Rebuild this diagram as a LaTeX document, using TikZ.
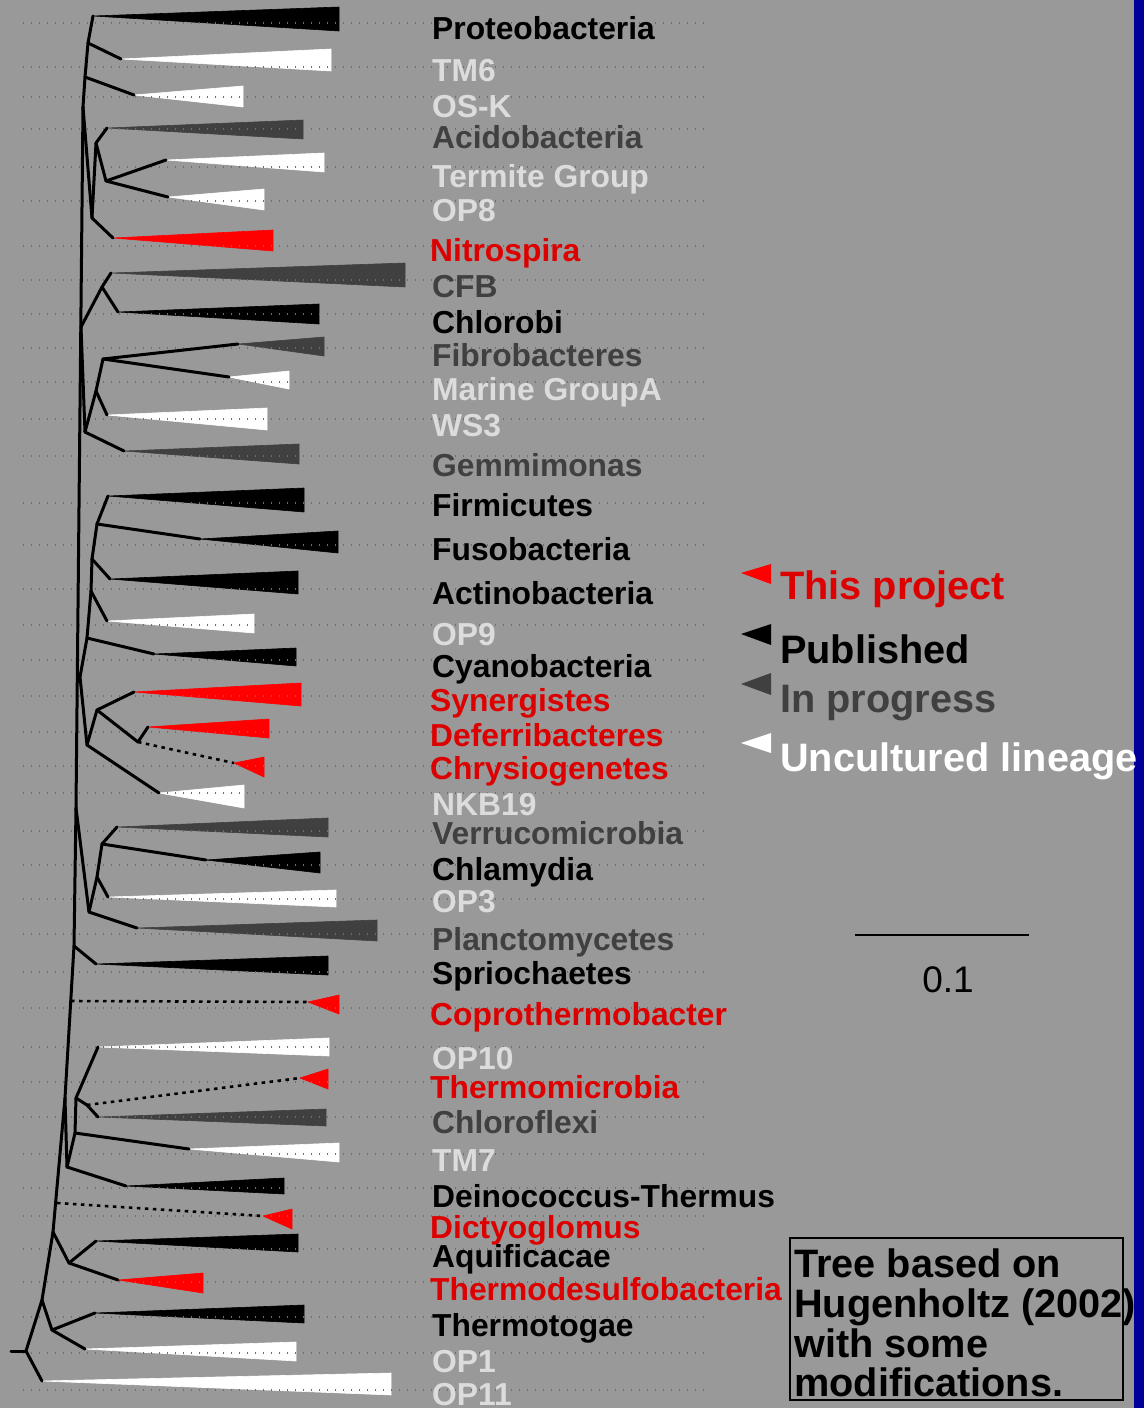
\documentclass[tikz,border=0pt]{standalone}
\usepackage{fontspec}
\setmainfont{Liberation Sans}
\definecolor{bg}{HTML}{999999}
\definecolor{dk}{HTML}{404040}
\definecolor{lt}{HTML}{DCDCDC}
\definecolor{rd}{HTML}{FF0000}
\definecolor{rdt}{HTML}{DD0000}
\definecolor{bluebar}{HTML}{000099}
\definecolor{guide}{HTML}{6E6E6E}
\newcommand\clade[5]{\fill[#5, draw=#5, line width=0.6pt, line join=round] (#1) -- (#2,#3) -- (#2,#4) -- cycle;}
\begin{document}
\begin{tikzpicture}[x=1pt,y=-1pt,
  br/.style={line width=3pt, line cap=round, line join=round},
  dbr/.style={line width=2.6pt, dash pattern=on 3.5pt off 4.5pt},
  lab/.style={anchor=base west, inner sep=0pt, font=\fontsize{31.8}{36}\selectfont\bfseries},
  guideline/.style={guide, line width=1.3pt, dash pattern=on 1.3pt off 6.7pt},
  leg/.style={anchor=base west, inner sep=0pt, font=\fontsize{39.7}{44}\selectfont\bfseries},
]
\useasboundingbox (0,0) rectangle (1144,1408);
\fill[bg] (0,0) rectangle (1144,1408);
\fill[bluebar] (1134,0) rectangle (1144,1408);

% tips
\coordinate (t1) at (93,16);
\coordinate (t2) at (121,59);
\coordinate (t3) at (134,95);
\coordinate (t4) at (107,128);
\coordinate (t5) at (166,160);
\coordinate (t6) at (168,197);
\coordinate (t7) at (113,238);
\coordinate (t8) at (111,273);
\coordinate (t9) at (118,312);
\coordinate (t10) at (238,344);
\coordinate (t11) at (229,377);
\coordinate (t12) at (107,415);
\coordinate (t13) at (124,451);
\coordinate (t14) at (108,496);
\coordinate (t15) at (200,539);
\coordinate (t16) at (110,579);
\coordinate (t17) at (107,621);
\coordinate (t18) at (154,654);
\coordinate (t19) at (134,692);
\coordinate (t20) at (148,727);
\coordinate (t21) at (234,763);
\coordinate (t22) at (159,793);
\coordinate (t23) at (117,827);
\coordinate (t24) at (206,860);
\coordinate (t25) at (108,897);
\coordinate (t26) at (137,928);
\coordinate (t27) at (96,964);
\coordinate (t28) at (308,1002);
\coordinate (t29) at (98,1047);
\coordinate (t30) at (300,1078);
\coordinate (t31) at (98,1117);
\coordinate (t32) at (189,1149);
\coordinate (t33) at (126,1186);
\coordinate (t34) at (263,1216);
\coordinate (t35) at (96,1241);
\coordinate (t36) at (118,1280);
\coordinate (t37) at (95,1313);
\coordinate (t38) at (85,1349);
\coordinate (t39) at (42,1381);

% internal nodes
\coordinate (nA) at (88,43);
\coordinate (nB) at (85,77);
\coordinate (nC) at (83,107);
\coordinate (nD) at (92,218);
\coordinate (nE) at (96,143);
\coordinate (nF) at (106,181);
\coordinate (nH) at (102,287);
\coordinate (nG) at (81,327);
\coordinate (nK) at (85,432);
\coordinate (nJ) at (96,391);
\coordinate (nI) at (103,359);
\coordinate (nL) at (97,524);
\coordinate (nM) at (92,559);
\coordinate (nN) at (91,591);
\coordinate (nO) at (87,638);
\coordinate (nP) at (80,677);
\coordinate (nQ) at (87,745);
\coordinate (nR) at (97,710);
\coordinate (nS) at (138,742);
\coordinate (nBB) at (76,808);
\coordinate (nT) at (89,912);
\coordinate (nV) at (97,877);
\coordinate (nW) at (102,844);
\coordinate (nU) at (74,946);
\coordinate (nX) at (71,1001);
\coordinate (nY) at (65,1098);
\coordinate (nZ) at (67,1167);
\coordinate (nAA) at (75,1133);
\coordinate (nAB) at (76,1098);
\coordinate (nAC) at (87,1105);
\coordinate (nDi) at (57,1203);
\coordinate (nW2) at (53,1232);
\coordinate (nAD) at (69,1263);
\coordinate (nAE) at (42,1300);
\coordinate (nAF) at (52,1330);
\coordinate (root) at (26,1351);
\coordinate (stub) at (11,1351);

% clades
\clade{t1}{339}{7}{31}{black}
\clade{t2}{331}{49}{71}{white}
\clade{t3}{243}{86}{107}{white}
\clade{t4}{303}{120}{139}{dk}
\clade{t5}{324}{153}{172}{white}
\clade{t6}{264}{189}{210}{white}
\clade{t7}{273}{230}{251}{rd}
\clade{t8}{405}{263}{287}{dk}
\clade{t9}{319}{304}{324}{black}
\clade{t10}{324}{337}{356}{dk}
\clade{t11}{289}{371}{389}{white}
\clade{t12}{267}{408}{430}{white}
\clade{t13}{299}{444}{464}{dk}
\clade{t14}{304}{488}{512}{black}
\clade{t15}{338}{531}{553}{black}
\clade{t16}{298}{571}{594}{black}
\clade{t17}{254}{614}{633}{white}
\clade{t18}{296}{648}{666}{black}
\clade{t19}{301}{683}{706}{rd}
\clade{t20}{269}{719}{738}{rd}
\clade{t21}{264}{757}{777}{rd}
\clade{t22}{244}{785}{808}{white}
\clade{t23}{328}{818}{837}{dk}
\clade{t24}{320}{852}{873}{black}
\clade{t25}{336}{890}{907}{white}
\clade{t26}{377}{920}{941}{dk}
\clade{t27}{328}{956}{975}{black}
\clade{t28}{339}{995}{1014}{rd}
\clade{t29}{329}{1038}{1056}{white}
\clade{t30}{328}{1069}{1089}{rd}
\clade{t31}{326}{1109}{1126}{dk}
\clade{t32}{339}{1143}{1162}{white}
\clade{t33}{284}{1178}{1194}{black}
\clade{t34}{292}{1209}{1229}{rd}
\clade{t35}{298}{1234}{1252}{black}
\clade{t36}{203}{1273}{1293}{rd}
\clade{t37}{304}{1305}{1323}{black}
\clade{t38}{296}{1342}{1361}{white}
\clade{t39}{391}{1373}{1395}{white}

% guide lines
\foreach \gy in {23,67,97,129,167,201,246,280,314,348,382,419,456,503,545,589,625,660,696,732,766,793,831,865,899,934,972,1008,1047,1082,1117,1154,1188,1216,1249,1282,1317,1353,1390}
  \draw[guideline] (23,\gy) -- (705,\gy);

% branches
\draw[br] (nA) -- (t1);
\draw[br] (nA) -- (t2);
\draw[br] (nB) -- (nA);
\draw[br] (nB) -- (t3);
\draw[br] (nC) -- (nB);
\draw[br] (nC) -- (nD);
\draw[br] (nD) -- (t7);
\draw[br] (nD) -- (nE);
\draw[br] (nE) -- (t4);
\draw[br] (nE) -- (nF);
\draw[br] (nF) -- (t5);
\draw[br] (nF) -- (t6);
\draw[br] (nC) -- (nBB);
\draw[br] (nG) -- (nH);
\draw[br] (nH) -- (t8);
\draw[br] (nH) -- (t9);
\draw[br] (nG) -- (nK);
\draw[br] (nK) -- (nJ);
\draw[br] (nK) -- (t13);
\draw[br] (nJ) -- (nI);
\draw[br] (nJ) -- (t12);
\draw[br] (nI) -- (t10);
\draw[br] (nI) -- (t11);
\draw[br] (nP) -- (nO);
\draw[br] (nO) -- (nN);
\draw[br] (nO) -- (t18);
\draw[br] (nN) -- (nM);
\draw[br] (nN) -- (t17);
\draw[br] (nM) -- (nL);
\draw[br] (nM) -- (t16);
\draw[br] (nL) -- (t14);
\draw[br] (nL) -- (t15);
\draw[br] (nP) -- (nQ);
\draw[br] (nQ) -- (nR);
\draw[br] (nQ) -- (t22);
\draw[br] (nR) -- (t19);
\draw[br] (nR) -- (nS);
\draw[br] (nS) -- (t20);
\draw[dbr] (nS) -- (t21);
\draw[br] (nBB) -- (nT);
\draw[br] (nT) -- (nV);
\draw[br] (nT) -- (t26);
\draw[br] (nV) -- (nW);
\draw[br] (nV) -- (t25);
\draw[br] (nW) -- (t23);
\draw[br] (nW) -- (t24);
\draw[br] (nBB) -- (nU);
\draw[br] (nU) -- (t27);
\draw[br] (nU) -- (nY);
\draw[dbr] (nX) -- (t28);
\draw[br] (nY) -- (nZ);
\draw[br] (nZ) -- (nAA);
\draw[br] (nZ) -- (t33);
\draw[br] (nAA) -- (nAB);
\draw[br] (nAA) -- (t32);
\draw[br] (nAB) -- (t29);
\draw[br] (nAB) -- (nAC);
\draw[br] (nAC) -- (t31);
\draw[dbr] (nAC) -- (t30);
\draw[br] (nY) -- (nW2);
\draw[dbr] (nDi) -- (t34);
\draw[br] (nW2) -- (nAD);
\draw[br] (nAD) -- (t35);
\draw[br] (nAD) -- (t36);
\draw[br] (nW2) -- (nAE);
\draw[br] (nAE) -- (nAF);
\draw[br] (nAF) -- (t37);
\draw[br] (nAF) -- (t38);
\draw[br] (nAE) -- (root);
\draw[br] (root) -- (t39);
\draw[br] (root) -- (stub);

% labels
\node[lab, text=black] (l1) at (432,39) {Proteobacteria};
\node[lab, text=lt] (l2) at (432,81) {TM6};
\node[lab, text=lt] (l3) at (432,117) {OS-K};
\node[lab, text=dk] (l4) at (432,148) {Acidobacteria};
\node[lab, text=lt] (l5) at (432,187) {Termite Group};
\node[lab, text=lt] (l6) at (432,221) {OP8};
\node[lab, text=rdt] (l7) at (430,261) {Nitrospira};
\node[lab, text=dk] (l8) at (432,297) {CFB};
\node[lab, text=black] (l9) at (432,333) {Chlorobi};
\node[lab, text=dk] (l10) at (432,366) {Fibrobacteres};
\node[lab, text=lt] (l11) at (432,400) {Marine GroupA};
\node[lab, text=lt] (l12) at (432,436) {WS3};
\node[lab, text=dk] (l13) at (432,476) {Gemmimonas};
\node[lab, text=black] (l14) at (432,516) {Firmicutes};
\node[lab, text=black] (l15) at (432,560) {Fusobacteria};
\node[lab, text=black] (l16) at (432,604) {Actinobacteria};
\node[lab, text=lt] (l17) at (432,645) {OP9};
\node[lab, text=black] (l18) at (432,677) {Cyanobacteria};
\node[lab, text=rdt] (l19) at (430,711) {Synergistes};
\node[lab, text=rdt] (l20) at (430,746) {Deferribacteres};
\node[lab, text=rdt] (l21) at (430,779) {Chrysiogenetes};
\node[lab, text=lt] (l22) at (432,815) {NKB19};
\node[lab, text=dk] (l23) at (432,844) {Verrucomicrobia};
\node[lab, text=black] (l24) at (432,880) {Chlamydia};
\node[lab, text=lt] (l25) at (432,912) {OP3};
\node[lab, text=dk] (l26) at (432,950) {Planctomycetes};
\node[lab, text=black] (l27) at (432,984) {Spriochaetes};
\node[lab, text=rdt] (l28) at (430,1025) {Coprothermobacter};
\node[lab, text=lt] (l29) at (432,1069) {OP10};
\node[lab, text=rdt] (l30) at (430,1098) {Thermomicrobia};
\node[lab, text=dk] (l31) at (432,1133) {Chloroflexi};
\node[lab, text=lt] (l32) at (432,1171) {TM7};
\node[lab, text=black] (l33) at (432,1207) {Deinococcus-Thermus};
\node[lab, text=rdt] (l34) at (430,1238) {Dictyoglomus};
\node[lab, text=black] (l35) at (432,1267) {Aquificacae};
\node[lab, text=rdt] (l36) at (430,1300) {Thermodesulfobacteria};
\node[lab, text=black] (l37) at (432,1336) {Thermotogae};
\node[lab, text=lt] (l38) at (432,1372) {OP1};
\node[lab, text=lt] (l39) at (432,1405) {OP11};

% legend
\fill[rd] (741,573) -- (771,564) -- (771,584) -- cycle;
\fill[black] (741,634) -- (771,624) -- (771,645) -- cycle;
\fill[dk] (741,684) -- (771,673) -- (771,695) -- cycle;
\fill[white] (741,743) -- (771,733) -- (771,753) -- cycle;
\node[leg, text=rdt] (g1) at (780,599) {This project};
\node[leg, text=black] (g2) at (780,663) {Published};
\node[leg, text=dk] (g3) at (780,712) {In progress};
\node[leg, text=white] (g4) at (780,771) {Uncultured lineage};

% scale bar
\coordinate (sb1) at (855,935);
\coordinate (sb2) at (1029,935);
\draw[line width=1.6pt] (sb1) -- (sb2);
\node[anchor=base, inner sep=0pt, font=\fontsize{37}{40}\selectfont] (sbl) at (948,992) {0.1};

% note box
\draw[line width=1.5pt] (790,1238) rectangle (1123,1400);
\node[leg, text=black] (b1) at (794,1277) {Tree based on};
\node[leg, text=black] (b2) at (794,1317) {Hugenholtz (2002)};
\node[leg, text=black] (b3) at (794,1357) {with some};
\node[leg, text=black] (b4) at (794,1396) {modifications.};
\end{tikzpicture}
\end{document}
